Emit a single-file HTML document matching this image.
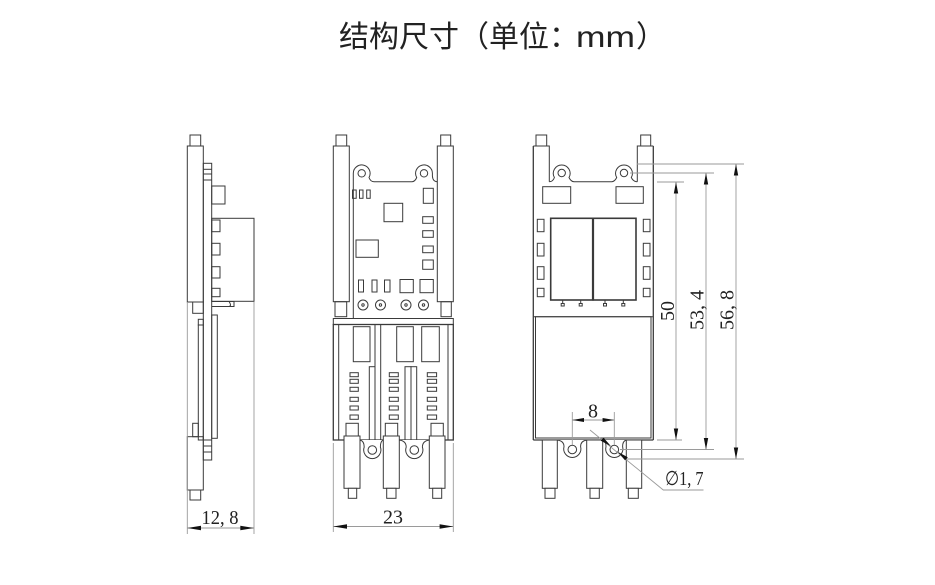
<!DOCTYPE html>
<html><head><meta charset="utf-8"><style>
html,body{margin:0;padding:0;background:#fff;}
svg{display:block;}
</style></head><body>
<svg width="935" height="585" viewBox="0 0 935 585" xmlns="http://www.w3.org/2000/svg">
<rect width="935" height="585" fill="#fff"/>
<g font-family="'Liberation Sans','Noto Sans CJK SC',sans-serif" font-size="30" fill="#222">
<text x="339" y="47">结构尺寸（单位：</text>
<text x="576" y="47" textLength="59" lengthAdjust="spacingAndGlyphs">mm</text>
<text x="636" y="47">）</text>
</g>

<g fill="none" stroke="#3a3a3a" stroke-width="1">
<!-- ============ LEFT (side) VIEW ============ -->
<rect x="190" y="135" width="10.7" height="11" fill="#fff"/>
<rect x="187.3" y="146" width="16" height="156"/>
<rect x="192.7" y="302" width="10.6" height="11.3"/>
<rect x="198.3" y="319.3" width="5" height="5.7"/>
<rect x="198.3" y="325" width="5" height="115"/>
<rect x="192.7" y="423.3" width="5.6" height="13.4"/>
<rect x="187.3" y="436.7" width="16" height="53.3"/>
<rect x="190" y="490" width="10.7" height="10"/>
<rect x="203.3" y="163.3" width="8.4" height="296.7"/>
<line x1="203.3" y1="169.3" x2="211.7" y2="169.3"/>
<line x1="203.3" y1="174" x2="211.7" y2="174"/>
<line x1="203.3" y1="180" x2="211.7" y2="180"/>
<line x1="203.3" y1="440" x2="211.7" y2="440"/>
<line x1="203.3" y1="446" x2="211.7" y2="446"/>
<line x1="203.3" y1="452" x2="211.7" y2="452"/>
<rect x="211.7" y="186" width="13.3" height="18"/>
<rect x="211.7" y="218.3" width="42.3" height="83"/>
<rect x="211.7" y="220" width="8.3" height="11.7"/>
<rect x="211.7" y="243.3" width="8.3" height="11.7"/>
<rect x="211.7" y="266.7" width="8.3" height="11.3"/>
<rect x="211.7" y="288.3" width="8.3" height="8.4"/>
<path d="M211.7,301.5 L234,301.5 L234,306.5 L211.7,306.5"/>
<path d="M229,301.5 Q232,306 229,306.5"/>
<rect x="211.7" y="315" width="5.6" height="123.3"/>

<!-- ============ MIDDLE (front) VIEW ============ -->
<rect x="336" y="135" width="10.7" height="11" fill="#fff"/>
<rect x="440.7" y="135" width="10" height="11" fill="#fff"/>
<rect x="333.3" y="146" width="16" height="155.7"/>
<rect x="437.3" y="146" width="16" height="155.7"/>
<rect x="335" y="301.7" width="11.7" height="15"/>
<rect x="441" y="301.7" width="10.3" height="15"/>
<path d="M353.3,318.5 L353.3,173.3 A8.4,8.4 0 1 1 369,177.5 Q370.5,181.7 374,181.7 L412,181.7 Q415,181.7 416.7,177.5 A8.4,8.4 0 1 1 432.4,173.3 L432.4,176 Q432.8,181.7 437.3,181.7"/>
<circle cx="361.7" cy="173.3" r="3.7"/>
<circle cx="424" cy="173.3" r="3.7"/>
<rect x="352.5" y="190" width="3.7" height="8.3"/>
<rect x="359.5" y="190" width="3.5" height="8.3"/>
<rect x="366.7" y="190" width="3.5" height="8.3"/>
<rect x="384" y="203.3" width="18.7" height="18.4"/>
<rect x="423.3" y="188.3" width="10" height="15"/>
<rect x="422.7" y="216.7" width="10.6" height="6.6"/>
<rect x="422.7" y="230.7" width="10.6" height="6.6"/>
<rect x="422.7" y="246" width="10.6" height="6.7"/>
<rect x="422.7" y="260" width="10.6" height="9.3"/>
<rect x="356" y="240" width="22.3" height="17.3"/>
<rect x="358.5" y="280" width="5" height="12"/>
<rect x="372" y="280" width="5" height="12"/>
<rect x="384.5" y="280" width="5.5" height="12"/>
<rect x="400" y="279.5" width="13.3" height="13.2"/>
<rect x="420" y="279.5" width="13.3" height="13.2"/>
<circle cx="363" cy="305" r="5"/><circle cx="363" cy="305" r="1.2"/>
<circle cx="380.5" cy="305" r="5"/><circle cx="380.5" cy="305" r="1.2"/>
<circle cx="406" cy="305" r="5"/><circle cx="406" cy="305" r="1.2"/>
<circle cx="423.5" cy="305" r="5"/><circle cx="423.5" cy="305" r="1.2"/>
<rect x="333.3" y="318.5" width="120" height="6"/>
<rect x="333.3" y="324.5" width="120" height="115.5" stroke-width="1.3"/>
<line x1="338.7" y1="324.5" x2="338.7" y2="440"/>
<line x1="448" y1="324.5" x2="448" y2="440"/>
<rect x="353.3" y="326.7" width="16.7" height="35"/>
<rect x="396.7" y="326.7" width="16.6" height="35"/>
<rect x="421.7" y="326.7" width="17.6" height="35"/>
<rect x="369.3" y="366.7" width="5.7" height="73.3"/>
<line x1="375" y1="324.5" x2="375" y2="440"/>
<line x1="380.7" y1="324.5" x2="380.7" y2="440"/>
<rect x="405" y="366.7" width="6" height="73.3"/>
<rect x="411" y="366.7" width="5.7" height="73.3"/>
<g>
<rect x="350" y="372.7" width="8.3" height="4"/><rect x="350" y="379.3" width="8.3" height="4"/><rect x="350" y="387.3" width="8.3" height="4"/><rect x="350" y="397.3" width="8.3" height="4"/><rect x="350" y="406" width="8.3" height="4"/><rect x="350" y="415" width="8.3" height="4.3"/>
<rect x="389.3" y="372.7" width="9" height="4"/><rect x="389.3" y="379.3" width="9" height="4"/><rect x="389.3" y="387.3" width="9" height="4"/><rect x="389.3" y="397.3" width="9" height="4"/><rect x="389.3" y="406" width="9" height="4"/><rect x="389.3" y="415" width="9" height="4.3"/>
<rect x="427.3" y="372.7" width="9.3" height="4"/><rect x="427.3" y="379.3" width="9.3" height="4"/><rect x="427.3" y="387.3" width="9.3" height="4"/><rect x="427.3" y="397.3" width="9.3" height="4"/><rect x="427.3" y="406" width="9.3" height="4"/><rect x="427.3" y="415" width="9.3" height="4.3"/>
</g>
<!-- pins -->
<rect x="346" y="423.3" width="12.3" height="12.7" fill="#fff"/>
<rect x="344" y="436" width="16" height="52.3" fill="#fff"/>
<rect x="348.3" y="488.3" width="8.4" height="10" fill="#fff"/>
<rect x="385.3" y="423.3" width="12.4" height="12.7" fill="#fff"/>
<rect x="383.3" y="436" width="16" height="52.3" fill="#fff"/>
<rect x="386.7" y="488.3" width="9.3" height="10" fill="#fff"/>
<rect x="431" y="423.3" width="12.3" height="12.7" fill="#fff"/>
<rect x="429.3" y="436" width="15.7" height="52.3" fill="#fff"/>
<rect x="432.7" y="488.3" width="9" height="10" fill="#fff"/>
<path d="M360,440 Q364.2,441 364.2,447.1 A8.6,8.6 0 1 0 380.4,447.1 Q380.4,441 383.3,440" fill="#fff"/>
<path d="M399.3,440 Q406.2,441 406.2,447.1 A8.6,8.6 0 1 0 422.4,447.1 Q422.4,441 429.3,440" fill="#fff"/>
<circle cx="372.3" cy="450" r="4.3"/>
<circle cx="414.3" cy="450" r="4.3"/>

<!-- ============ RIGHT (back) VIEW ============ -->
<rect x="536" y="135" width="10.7" height="11" fill="#fff"/>
<rect x="640.7" y="135" width="10" height="11" fill="#fff"/>
<path d="M533.3,146 L549.3,146 L549.3,181.7"/>
<path d="M653.3,146 L637.3,146 L637.3,181.7"/>
<line x1="533.3" y1="146" x2="533.3" y2="440" stroke-width="1.3"/>
<line x1="653.3" y1="146" x2="653.3" y2="440" stroke-width="1.3"/>
<path d="M549.3,181.7 Q553,181.7 554.4,177.5 A8.4,8.4 0 1 1 569,177.5 Q571,181.7 574,181.7 L611.7,181.7 Q614.7,181.7 616.7,177.5 A8.4,8.4 0 1 1 631.3,177.5 Q633.3,181.7 637.3,181.7"/>
<circle cx="561.7" cy="173" r="3.7"/>
<circle cx="624" cy="173" r="3.7"/>
<rect x="542.7" y="186.7" width="28" height="16.6"/>
<rect x="616" y="186.7" width="27.3" height="16.6"/>
<rect x="537.3" y="219.3" width="6.7" height="12.4"/>
<rect x="537.3" y="243.3" width="6.7" height="12.7"/>
<rect x="537.3" y="266.7" width="6.7" height="12.6"/>
<rect x="537.3" y="288.3" width="6.7" height="8.4"/>
<rect x="643.3" y="219.3" width="6.7" height="12.4"/>
<rect x="643.3" y="243.3" width="6.7" height="12.7"/>
<rect x="643.3" y="266.7" width="6.7" height="12.6"/>
<rect x="643.3" y="288.3" width="6.7" height="8.4"/>
<rect x="550.7" y="218.3" width="42" height="81.7" stroke-width="1.6"/>
<rect x="593.3" y="218.3" width="42.7" height="81.7" stroke-width="1.6"/>
<g stroke-width="1">
<line x1="562.7" y1="300" x2="562.7" y2="303.5"/><rect x="561.2" y="303.5" width="3" height="2.5"/>
<line x1="580.7" y1="300" x2="580.7" y2="303.5"/><rect x="579.2" y="303.5" width="3" height="2.5"/>
<line x1="605" y1="300" x2="605" y2="303.5"/><rect x="603.5" y="303.5" width="3" height="2.5"/>
<line x1="623.3" y1="300" x2="623.3" y2="303.5"/><rect x="621.8" y="303.5" width="3" height="2.5"/>
</g>
<line x1="533.3" y1="316.7" x2="653.3" y2="316.7"/>
<rect x="535.5" y="316.7" width="115.5" height="121.3"/>
<line x1="533.3" y1="440" x2="653.3" y2="440" stroke-width="1.3"/>
<rect x="542.3" y="440" width="15" height="48.3" fill="#fff"/>
<rect x="545" y="488.3" width="10" height="10" fill="#fff"/>
<rect x="586.7" y="440" width="16" height="48.3" fill="#fff"/>
<rect x="590" y="488.3" width="9.3" height="10" fill="#fff"/>
<rect x="626.3" y="440" width="15.4" height="48.3" fill="#fff"/>
<rect x="628.3" y="488.3" width="10" height="10" fill="#fff"/>
<path d="M557.3,440 Q564,441 564,446.6 A8.6,8.6 0 1 0 580.6,446.6 Q580.6,441 586.7,440" fill="#fff"/>
<path d="M602.7,440 Q606,441 606,446.6 A8.6,8.6 0 1 0 622.6,446.6 Q622.6,441 626.3,440" fill="#fff"/>
<circle cx="572.3" cy="449.5" r="4.3"/>
<circle cx="614.3" cy="449.5" r="4.3"/>
</g>

<!-- ============ DIMENSIONS ============ -->
<g stroke="#9a9a9a" stroke-width="0.9" fill="none">
<line x1="187.3" y1="302" x2="187.3" y2="534"/>
<line x1="254" y1="302" x2="254" y2="534"/>
<line x1="187.3" y1="528" x2="254" y2="528"/>
<line x1="333.3" y1="443" x2="333.3" y2="532"/>
<line x1="453.3" y1="443" x2="453.3" y2="532"/>
<line x1="333.3" y1="526.5" x2="453.3" y2="526.5"/>
<line x1="572.3" y1="412" x2="572.3" y2="445"/>
<line x1="614.3" y1="412" x2="614.3" y2="445"/>
<line x1="572.3" y1="420" x2="614.3" y2="420"/>
<polyline points="590,430 663.3,490 703.5,490"/>
<line x1="657" y1="182" x2="684" y2="182"/>
<line x1="630" y1="173" x2="714" y2="173"/>
<line x1="637" y1="164" x2="744" y2="164"/>
<line x1="657" y1="440" x2="682" y2="440"/>
<line x1="620" y1="449.5" x2="714" y2="449.5"/>
<line x1="627" y1="459" x2="744" y2="459"/>
<line x1="676" y1="182" x2="676" y2="440"/>
<line x1="706" y1="173" x2="706" y2="449.5"/>
<line x1="736" y1="164" x2="736" y2="459"/>
</g>
<g fill="#111" stroke="none">
<polygon points="187.3,528 201,525.8 201,530.2"/>
<polygon points="254,528 240.3,525.8 240.3,530.2"/>
<polygon points="333.3,526.5 347,524.3 347,528.7"/>
<polygon points="453.3,526.5 439.6,524.3 439.6,528.7"/>
<polygon points="572.3,420 584,418 584,422"/>
<polygon points="614.3,420 602.6,418 602.6,422"/>
<polygon points="676,182 673.8,193.5 678.2,193.5"/>
<polygon points="676,440 673.8,428.5 678.2,428.5"/>
<polygon points="706,173 703.8,184.5 708.2,184.5"/>
<polygon points="706,449.5 703.8,438 708.2,438"/>
<polygon points="736,164 733.8,175.5 738.2,175.5"/>
<polygon points="736,459 733.8,447.5 738.2,447.5"/>
<polygon points="611,446.3 600.8,440.8 603.5,437.6"/>
<polygon points="617.6,451.7 627.8,457.2 625.1,460.4"/>
</g>
<g font-family="'Liberation Serif','DejaVu Serif',serif" font-size="20" fill="#222">
<text x="220" y="524" text-anchor="middle" textLength="37" lengthAdjust="spacingAndGlyphs">12, 8</text>
<text x="393" y="523.5" text-anchor="middle">23</text>
<text x="593" y="417.5" text-anchor="middle">8</text>
<text x="665" y="485" textLength="38.5" lengthAdjust="spacingAndGlyphs">∅1, 7</text>
<text transform="translate(674,311) rotate(-90)" text-anchor="middle">50</text>
<text transform="translate(703.5,310) rotate(-90)" text-anchor="middle">53, 4</text>
<text transform="translate(733.5,310) rotate(-90)" text-anchor="middle">56, 8</text>
</g>
</svg>
</body></html>
